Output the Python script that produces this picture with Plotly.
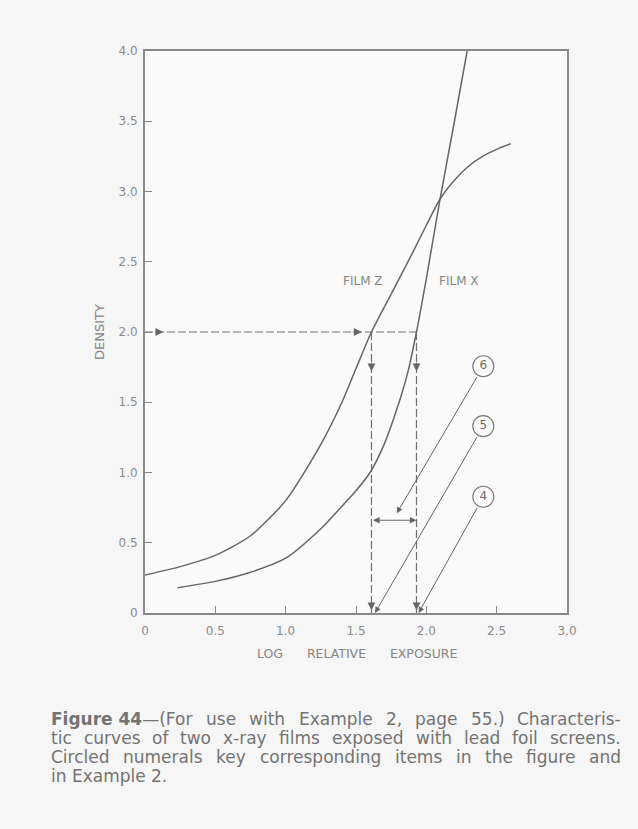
import plotly.graph_objects as go
import math

# ---- data ----
film_z_logE = [0.0, 0.25, 0.5, 0.75, 1.0, 1.25, 1.4, 1.5, 1.61, 1.75, 1.9, 2.0, 2.1, 2.2, 2.3, 2.4, 2.5, 2.6]
film_z_density = [0.27, 0.33, 0.41, 0.55, 0.80, 1.20, 1.50, 1.74, 2.0, 2.27, 2.56, 2.76, 2.95, 3.08, 3.18, 3.25, 3.30, 3.34]

film_x_logE = [0.23, 0.5, 0.75, 1.0, 1.25, 1.4, 1.5, 1.6, 1.7, 1.8, 1.87, 1.93, 2.0, 2.1, 2.2, 2.29]
film_x_density = [0.18, 0.225, 0.29, 0.39, 0.60, 0.76, 0.87, 1.0, 1.20, 1.48, 1.72, 2.0, 2.38, 2.96, 3.5, 4.0]

x_tick_vals = [0, 0.5, 1.0, 1.5, 2.0, 2.5, 3.0]
x_tick_text = ["0", "0.5", "1.0", "1.5", "2.0", "2.5", "3.0"]
y_tick_vals = [0, 0.5, 1.0, 1.5, 2.0, 2.5, 3.0, 3.5, 4.0]
y_tick_text = ["0", "0.5", "1.0", "1.5", "2.0", "2.5", "3.0", "3.5", "4.0"]

target_density = 2.0
logE_z_at_target = 1.61
logE_x_at_target = 1.93
delta_arrow_density = 0.66

circle_labels = ["6", "5", "4"]
circle_logE = [2.405, 2.405, 2.405]
circle_density = [1.756, 1.33, 0.827]
leader_head_logE = [1.79, 1.635, 1.945]
leader_head_density = [0.71, 0.0, 0.0]

# caption lines as lists of words (first two words of line 1 are bold)
caption_lines = [
    ["**Figure 44**\u2014(For", "use", "with", "Example", "2,", "page", "55.)", "Characteris-"],
    ["tic", "curves", "of", "two", "x-ray", "films", "exposed", "with", "lead", "foil", "screens."],
    ["Circled", "numerals", "key", "corresponding", "items", "in", "the", "figure", "and"],
    ["in", "Example", "2."],
]
caption_justify = [True, True, True, False]

LINE = "#666666"
TEXT = "#858585"
FONT = "DejaVu Sans"

# approximate DejaVu Sans advance widths (em) for layout of justified caption
W = {' ': .318, 'a': .613, 'b': .635, 'c': .550, 'd': .635, 'e': .615, 'f': .352, 'g': .635, 'h': .634,
     'i': .278, 'j': .278, 'k': .579, 'l': .278, 'm': .974, 'n': .634, 'o': .612, 'p': .635, 'q': .635,
     'r': .411, 's': .521, 't': .392, 'u': .634, 'v': .592, 'w': .818, 'x': .592, 'y': .592, 'z': .525,
     'A': .684, 'B': .686, 'C': .698, 'D': .770, 'E': .632, 'F': .575, 'G': .775, 'H': .752, 'I': .295,
     'K': .656, 'L': .557, 'M': .863, 'N': .748, 'O': .787, 'P': .603, 'R': .695, 'S': .635, 'T': .611,
     '.': .318, ',': .318, '-': .361, '(': .390, ')': .390, '\u2014': 1.0}
WB = {'F': .683, 'i': .343, 'g': .716, 'u': .712, 'r': .493, 'e': .678, ' ': .348, '4': .696}


def word_width(word, size):
    total = 0.0
    bold = False
    i = 0
    while i < len(word):
        if word.startswith("**", i):
            bold = not bold
            i += 2
            continue
        ch = word[i]
        if ch.isdigit():
            total += .696 if bold else .636
        else:
            total += (WB.get(ch, .7) if bold else W.get(ch, .6))
        i += 1
    return total * size


def to_html(word):
    parts = word.split("**")
    out = ""
    for k, p in enumerate(parts):
        out += ("<b>%s</b>" % p) if k % 2 == 1 else p
    return out


fig = go.Figure()

fig.add_trace(go.Scatter(x=film_z_logE, y=film_z_density, mode="lines",
                         line=dict(color=LINE, width=1.5, shape="spline", smoothing=0.7),
                         hoverinfo="skip", showlegend=False))
fig.add_trace(go.Scatter(x=film_x_logE, y=film_x_density, mode="lines",
                         line=dict(color=LINE, width=1.5, shape="spline", smoothing=0.7),
                         hoverinfo="skip", showlegend=False))

dash = "8px,3px"
fig.add_trace(go.Scatter(x=[0, logE_x_at_target], y=[target_density, target_density], mode="lines",
                         line=dict(color="#707070", width=1.2, dash=dash), hoverinfo="skip", showlegend=False))
for xv in [logE_z_at_target, logE_x_at_target]:
    fig.add_trace(go.Scatter(x=[xv, xv], y=[target_density, 0], mode="lines",
                             line=dict(color="#707070", width=1.2, dash=dash), hoverinfo="skip", showlegend=False))

fig.add_trace(go.Scatter(x=circle_logE, y=circle_density, mode="markers+text", text=circle_labels,
                         textposition="middle center", textfont=dict(family=FONT, size=12, color="#6a6a6a"),
                         marker=dict(symbol="circle-open", size=21, color="#777", line=dict(width=1.1)),
                         hoverinfo="skip", showlegend=False))

annotations = []


def head(x, y, ax, ay):
    annotations.append(dict(x=x, y=y, ax=ax, ay=ay, xref="x", yref="y", text="", showarrow=True,
                            arrowhead=2, arrowsize=1.3, arrowwidth=1.2, arrowcolor="#666"))


head(0.13, target_density, -10, 0)
head(logE_z_at_target - 0.07, target_density, -10, 0)
for xv in [logE_z_at_target, logE_x_at_target]:
    head(xv, 1.72, 0, -10)
    head(xv, 0.02, 0, -10)

annotations.append(dict(x=logE_x_at_target, y=delta_arrow_density, ax=logE_z_at_target, ay=delta_arrow_density,
                        xref="x", yref="y", axref="x", ayref="y", text="", showarrow=True,
                        arrowhead=2, startarrowhead=2, arrowside="end+start", arrowsize=1.2,
                        startarrowsize=1.2, arrowwidth=1.1, arrowcolor="#666"))

r = 0.077
for cx, cy, hx, hy in zip(circle_logE, circle_density, leader_head_logE, leader_head_density):
    dx, dy = hx - cx, hy - cy
    n = math.hypot(dx, dy)
    tx, ty = cx + r * dx / n, cy + r * dy / n
    annotations.append(dict(x=hx, y=hy, ax=tx, ay=ty, xref="x", yref="y", axref="x", ayref="y",
                            text="", showarrow=True, arrowhead=2, arrowsize=1.2, arrowwidth=1.0,
                            arrowcolor="#666", standoff=0))

annotations.append(dict(x=1.55, y=2.36, xref="x", yref="y", text="FILM Z", showarrow=False,
                        font=dict(family=FONT, size=12, color=TEXT)))
annotations.append(dict(x=2.235, y=2.36, xref="x", yref="y", text="FILM X", showarrow=False,
                        font=dict(family=FONT, size=12, color=TEXT)))

plot_top, plot_bottom, plot_left, plot_w = 51, 613, 145, 422
ph = plot_bottom - plot_top

annotations.append(dict(x=(99 - plot_left) / plot_w, y=0.5, xref="paper", yref="paper",
                        xanchor="center", yanchor="middle", text="DENSITY", textangle=-90,
                        showarrow=False, font=dict(family=FONT, size=13, color=TEXT)))
annotations.append(dict(x=(357 - plot_left) / plot_w, y=(plot_bottom - 653) / ph, xref="paper", yref="paper",
                        xanchor="center", yanchor="middle",
                        text="LOG" + "\u00a0" * 6 + "RELATIVE" + "\u00a0" * 6 + "EXPOSURE",
                        showarrow=False, font=dict(family=FONT, size=12.5, color=TEXT)))

# caption, justified between left and right text edges
cap_size = 17
cap_left, cap_right = 50, 620
for i, (words, justify) in enumerate(zip(caption_lines, caption_justify)):
    ypx = 719 + i * 19
    widths = [word_width(w, cap_size) for w in words]
    if justify and len(words) > 1:
        gap = (cap_right - cap_left - sum(widths)) / (len(words) - 1)
    else:
        gap = W[' '] * cap_size
    xpx = cap_left
    for w, wd in zip(words, widths):
        annotations.append(dict(x=(xpx - plot_left) / plot_w, y=(plot_bottom - ypx) / ph,
                                xref="paper", yref="paper", xanchor="left", yanchor="middle",
                                text=to_html(w), showarrow=False, borderpad=0,
                                font=dict(family=FONT, size=cap_size, color="#737373")))
        xpx += wd + gap

fig.update_layout(
    width=638, height=829,
    margin=dict(l=145, r=71, t=51, b=216),
    paper_bgcolor="#f6f6f6", plot_bgcolor="#fafafa",
    annotations=annotations,
    showlegend=False,
)
axis_common = dict(showgrid=False, zeroline=False, showline=True, mirror=True, linecolor="#8a8a8a",
                   linewidth=2, ticks="inside", ticklen=7, tickwidth=1.2, tickcolor="#8a8a8a",
                   tickfont=dict(family=FONT, size=12, color="#8c8c8c"))
fig.update_xaxes(range=[0, 3], tickvals=x_tick_vals, ticktext=x_tick_text, ticklabelstandoff=6, **axis_common)
fig.update_yaxes(range=[0, 4], tickvals=y_tick_vals, ticktext=y_tick_text, ticklabelstandoff=3, **axis_common)

fig.write_html("out.html")
